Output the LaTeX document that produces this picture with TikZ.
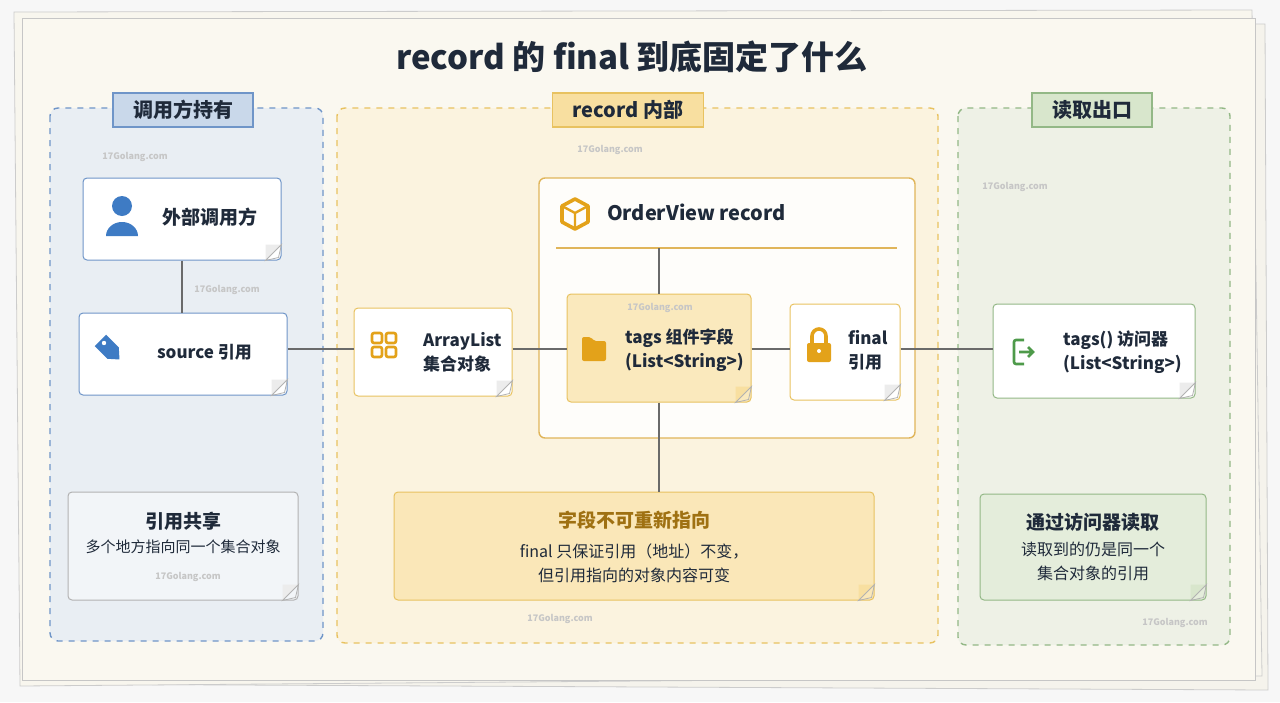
\documentclass[tikz,border=0pt]{standalone}
\usepackage{fontspec}
\setmainfont{Noto Sans CJK SC}
\usetikzlibrary{calc}
\definecolor{paper}{HTML}{FAF8F0}
\definecolor{bluef}{HTML}{E9EEF3}\definecolor{bluel}{HTML}{6F95C8}\definecolor{bluet}{HTML}{C9D8EA}
\definecolor{yelf}{HTML}{FBF3DF}\definecolor{yell}{HTML}{E8C260}\definecolor{yelt}{HTML}{F8DFA0}
\definecolor{grnf}{HTML}{EEF1E6}\definecolor{grnl}{HTML}{93B886}\definecolor{grnt}{HTML}{D8E6CC}
\definecolor{ink}{HTML}{1F2A3A}\definecolor{orng}{HTML}{E3A21A}\definecolor{icb}{HTML}{3E7BC4}\definecolor{icg}{HTML}{4E9A4A}
\definecolor{wline}{HTML}{6A6A6A}
\tikzset{x=0.5pt,y=-0.5pt,
 panel/.style={draw=#1,dashed,line width=0.7pt,rounded corners=4pt},
 tab/.style={draw=#1,line width=0.6pt,font=\fontsize{10}{12}\selectfont\bfseries,inner xsep=10pt,minimum height=17pt,text=ink},
 card/.style={draw=#1,line width=0.5pt,fill=white,rounded corners=2pt},
 lab/.style={font=\fontsize{8.5}{11}\selectfont\bfseries,text=ink,align=left,anchor=west},
 conn/.style={draw=wline,line width=1.3pt},
 wm/.style={font=\fontsize{4.5}{5}\selectfont\bfseries,text=gray!45}}
\newcommand\fold[2]{\fill[#2] ($(#1)+(-16,0)$) -- ($(#1)+(0,-16)$) -- ($(#1)+(-16,-16)$)+(0,0) -- cycle;\draw[gray!60,line width=0.4pt] ($(#1)+(-16,0)$) -- ($(#1)+(0,-16)$) -- ($(#1)+(-3,-3)$) -- cycle;}
\begin{document}
\begin{tikzpicture}
\useasboundingbox (0,0) rectangle (1280,702);
\fill[white!94!gray] (0,0) rectangle (1280,702);
\draw[gray!40,fill=paper!96!gray] (40,30) -- (1265,24) -- (1268,690) -- (30,684) -- cycle;
\draw[gray!40,fill=paper!98!gray] (14,12) -- (1252,10) -- (1262,676) -- (20,686) -- cycle;
\draw[gray!45,fill=paper] (22,18) rectangle (1255,680);
\node[font=\fontsize{16.5}{18}\selectfont\bfseries,text=ink] (title) at (632,57) {record 的 final 到底固定了什么};
% panels
\draw[panel=bluel,fill=bluef] (50,108) rectangle (323,641);
\draw[panel=yell,fill=yelf] (337,108) rectangle (938,643);
\draw[panel=grnl,fill=grnf] (958,108) rectangle (1230,645);
\node[tab=bluel,fill=bluet] (t1) at (183,110) {调用方持有};
\node[tab=yell,fill=yelt] (t2) at (628,110) {record 内部};
\node[tab=grnl,fill=grnt] (t3) at (1092,110) {读取出口};
% record container
\draw[draw=yell!80!brown,fill=white!70!paper,line width=0.7pt,rounded corners=3pt] (539,178) rectangle (915,438);
\node[font=\fontsize{10}{12}\selectfont\bfseries,text=ink,anchor=west] (rec) at (600,212) {OrderView record};
\draw[orng,line width=1.8pt,line join=round] (575,199) -- (588,206) -- (588,222) -- (575,229) -- (562,222) -- (562,206) -- cycle;
\draw[orng,line width=1.2pt] (562,206) -- (575,213) -- (588,206) (575,213) -- (575,229);
\draw[yell!80!brown,line width=0.6pt] (556,248) -- (897,248);
\coordinate (hl) at (659,248);
% cards
\node[card=bluel,minimum width=99pt,minimum height=41pt] (ext) at (182,219) {};
\node[lab,font=\fontsize{9.5}{11}\selectfont\bfseries] at (155,217) {外部调用方};
\fill[icb] (122,206) circle (10);\fill[icb] (106,236) arc (180:360:16 and 14) -- cycle;
\fold{ext.south east}{gray!15}
\node[card=bluel,minimum width=104pt,minimum height=41pt] (src) at (183,354) {};
\node[lab] at (150,352) {source 引用};
\fill[icb,rotate around={-45:(111,351)}] (96,343) -- (114,343) -- (123,351) -- (114,359) -- (96,359) -- cycle;
\fill[white] (104,343) circle (2.2);
\fold{src.south east}{gray!15}
\node[card=gray!60,fill=bluef!60!white,minimum width=115pt,minimum height=54pt] (n1) at (183,546) {};
\node[font=\fontsize{9.5}{11}\selectfont\bfseries,text=ink] at (183,521) {引用共享};
\node[font=\fontsize{7.5}{9}\selectfont,text=ink] at (183,547) {多个地方指向同一个集合对象};
\fold{n1.south east}{gray!15}
\node[card=yell,minimum width=79pt,minimum height=44pt] (arr) at (433,352) {};
\node[lab,font=\fontsize{8.5}{12}\selectfont\bfseries] at (416,352) {ArrayList\\集合对象};
\foreach \dx in {0,14}\foreach \dy in {0,14}\draw[orng,line width=1.3pt,rounded corners=1pt] (372+\dx,333+\dy) rectangle (382+\dx,343+\dy);
\fold{arr.south east}{gray!15}
\node[card=yell,fill=yelt!70!white,minimum width=92pt,minimum height=54pt] (tags) at (659,348) {};
\node[lab,font=\fontsize{8.5}{12}\selectfont\bfseries] at (618,350) {tags 组件字段\\(List<String>)};
\fill[orng,rounded corners=1pt] (582,337) -- (591,337) -- (594,341) -- (606,341) -- (606,361) -- (582,361) -- cycle;
\fold{tags.south east}{yelt}
\node[card=yell,minimum width=55pt,minimum height=48pt] (fin) at (845,352) {};
\node[lab,font=\fontsize{8.5}{12}\selectfont\bfseries] at (841,350) {final\\引用};
\draw[orng,line width=1.8pt] (812,344) -- (812,336) arc (180:360:7) -- (826,344);
\fill[orng,rounded corners=1pt] (807,343) rectangle (831,362);
\fill[white] (819,351) circle (2);
\fold{fin.south east}{gray!15}
\node[card=grnl,minimum width=101pt,minimum height=47pt] (acc) at (1094,351) {};
\node[lab,font=\fontsize{8.5}{12}\selectfont\bfseries] at (1056,352) {tags() 访问器\\(List<String>)};
\draw[icg,line width=1.3pt,rounded corners=1pt] (1024,340) -- (1014,340) -- (1014,364) -- (1024,364);
\draw[icg,line width=1.3pt] (1019,352) -- (1033,352) (1028,347) -- (1033,352) -- (1028,357);
\fold{acc.south east}{gray!15}
\node[card=yell,fill=yelt!75!white,minimum width=240pt,minimum height=54pt] (n2) at (634,546) {};
\node[font=\fontsize{9.5}{11}\selectfont\bfseries,text=orng!70!black] at (634,520) {字段不可重新指向};
\node[font=\fontsize{8}{12}\selectfont,text=ink,align=center] at (634,563) {final 只保证引用（地址）不变，\\但引用指向的对象内容可变};
\fold{n2.south east}{yelt}
\node[card=grnl,fill=grnt!70!white,minimum width=113pt,minimum height=53pt] (n3) at (1093,547) {};
\node[font=\fontsize{9.5}{11}\selectfont\bfseries,text=ink] at (1093,522) {通过访问器读取};
\node[font=\fontsize{8}{12}\selectfont,text=ink,align=center] at (1093,561) {读取到的仍是同一个\\集合对象的引用};
\fold{n3.south east}{grnt}
% connectors
\draw[conn] (ext.south) -- (src.north-|ext.south);
\draw[conn] (src.east|-0,349) -- (arr.west|-0,349);
\draw[conn] (arr.east|-0,349) -- (tags.west|-0,349);
\draw[conn] (tags.east|-0,349) -- (fin.west|-0,349);
\draw[conn] (fin.east|-0,349) -- (acc.west|-0,349);
\draw[conn] (hl) -- (tags.north);
\draw[conn] (tags.south) -- (tags.south|-n2.north);
% watermarks
\foreach \p in {(135,157),(227,290),(610,150),(660,308),(1015,187),(188,577),(560,619),(1175,623)}
 \node[wm] at \p {17Golang.com};
\end{tikzpicture}
\end{document}
